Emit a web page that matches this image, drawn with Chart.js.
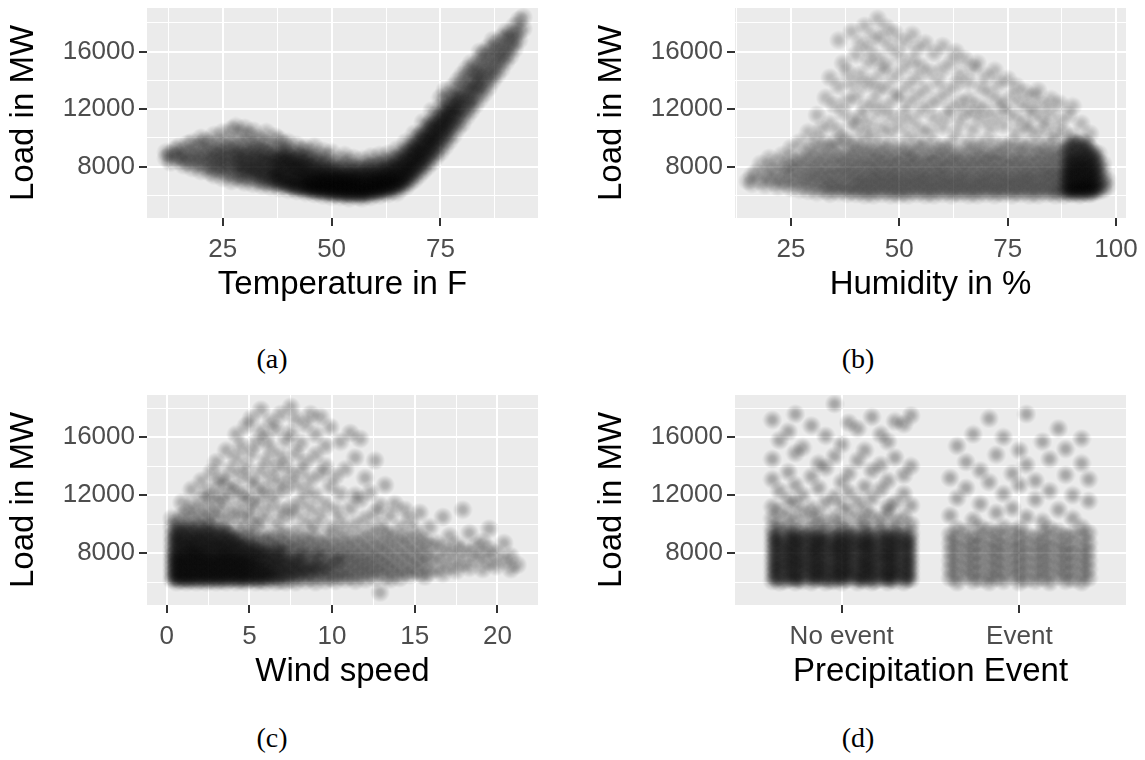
<!DOCTYPE html>
<html>
<head>
<meta charset="utf-8">
<script src="https://cdn.jsdelivr.net/npm/chart.js@4.4.0/dist/chart.umd.min.js"></script>
<style>
  body { margin: 0; background: #fff; width: 1145px; height: 760px; position: relative; overflow: hidden; }
  canvas { position: absolute; }
  .cap { position: absolute; font-family: "Liberation Serif", serif; font-size: 28px; color: #000; transform: translate(-50%, -50%); }
</style>
</head>
<body>
<canvas id="tempChart" width="556" height="330" style="left:0;top:0"></canvas>
<canvas id="humChart" width="556" height="330" style="left:588px;top:0"></canvas>
<canvas id="windChart" width="556" height="330" style="left:0;top:387px"></canvas>
<canvas id="precipChart" width="556" height="330" style="left:588px;top:387px"></canvas>
<div class="cap" style="left:272px;top:359px">(a)</div>
<div class="cap" style="left:858px;top:359px">(b)</div>
<div class="cap" style="left:272px;top:738px">(c)</div>
<div class="cap" style="left:858px;top:738px">(d)</div>
<script>
const tempCols = [
  [12, 8600, 9000], [13, 8300, 8900], [14, 8700, 9200], [15, 8400, 8800, 9400],
  [16, 8100, 8600, 9100], [17, 8300, 8900, 9600], [18, 7900, 8500, 9000, 9700],
  [19, 8200, 8700, 9300], [20, 7700, 8300, 8800, 9500, 10000], [21, 8000, 8600, 9100, 9800],
  [22, 7600, 8100, 8500, 9000, 9600], [23, 7400, 7900, 8400, 8800, 9300, 10200],
  [24, 7800, 8200, 8700, 9100, 9700], [25, 7200, 7700, 8100, 8500, 8900, 9400, 10400],
  [26, 7500, 8000, 8400, 8800, 9300, 9900], [27, 7000, 7600, 8100, 8600, 9000, 9500, 10600],
  [28, 7300, 7800, 8200, 8700, 9200, 9800, 10800], [29, 7100, 7500, 7900, 8300, 8800, 9400, 10300],
  [30, 6900, 7400, 7800, 8200, 8700, 9100, 9700, 10700], [31, 7200, 7700, 8100, 8500, 9000, 9600, 10200],
  [32, 6800, 7300, 7600, 8000, 8400, 8900, 9500, 10500], [33, 7100, 7500, 7900, 8300, 8700, 9300, 10000],
  [34, 6700, 7000, 7400, 7800, 8200, 8600, 9100, 9800], [35, 6900, 7300, 7700, 8100, 8500, 9000, 9600, 10400],
  [36, 6600, 7000, 7400, 7700, 8100, 8500, 8900, 9500], [37, 6800, 7200, 7500, 7900, 8300, 8800, 9300, 10100],
  [38, 6500, 6900, 7300, 7600, 8000, 8400, 8800, 9200, 9900], [39, 6700, 7000, 7400, 7800, 8200, 8600, 9100, 9600],
  [40, 6400, 6800, 7100, 7500, 7900, 8300, 8700, 9200, 9700], [41, 6600, 6900, 7300, 7700, 8100, 8500, 9000],
  [42, 6300, 6600, 7000, 7300, 7700, 8000, 8400, 8900, 9500], [43, 6500, 6800, 7200, 7500, 7900, 8300, 8700, 9200],
  [44, 6200, 6500, 6800, 7100, 7400, 7800, 8200, 8600, 9300], [45, 6300, 6600, 6900, 7200, 7600, 8000, 8500, 9000],
  [46, 6100, 6400, 6700, 7000, 7300, 7700, 8100, 8600, 9400], [47, 6200, 6500, 6800, 7100, 7400, 7800, 8300, 8800],
  [48, 6000, 6300, 6600, 6900, 7200, 7500, 7900, 8400, 9100], [49, 6200, 6500, 6800, 7000, 7300, 7700, 8200, 8700],
  [50, 5900, 6200, 6500, 6800, 7100, 7400, 7800, 8300, 9000], [51, 6100, 6400, 6700, 7000, 7300, 7700, 8200],
  [52, 5900, 6200, 6500, 6800, 7100, 7400, 7900, 8500], [53, 6000, 6300, 6600, 6900, 7200, 7600, 8100, 8800],
  [54, 5800, 6100, 6400, 6700, 7000, 7300, 7700, 8300], [55, 6000, 6300, 6600, 6900, 7200, 7600, 8000, 8600],
  [56, 5900, 6200, 6500, 6800, 7100, 7500, 8000], [57, 5800, 6100, 6400, 6700, 7000, 7400, 7900, 8500],
  [58, 6000, 6300, 6600, 6900, 7300, 7700, 8200], [59, 5900, 6200, 6500, 6800, 7100, 7500, 8000, 8700],
  [60, 6100, 6400, 6700, 7000, 7300, 7700, 8300], [61, 6000, 6300, 6600, 6900, 7200, 7600, 8100, 8800],
  [62, 6200, 6500, 6800, 7100, 7400, 7800, 8400], [63, 6100, 6400, 6700, 7000, 7300, 7700, 8100, 8900],
  [64, 6300, 6600, 6900, 7200, 7500, 7900, 8500], [65, 6200, 6600, 6900, 7200, 7600, 8000, 8500, 9200],
  [66, 6500, 6800, 7100, 7400, 7800, 8200, 8800], [67, 6600, 6900, 7300, 7600, 8000, 8400, 9000, 9700],
  [68, 6900, 7200, 7600, 7900, 8300, 8700, 9300], [69, 7100, 7500, 7900, 8300, 8700, 9100, 9600, 10300],
  [70, 7400, 7800, 8200, 8600, 9000, 9500, 10100], [71, 7700, 8100, 8500, 8900, 9300, 9800, 10400, 11100],
  [72, 8000, 8400, 8800, 9300, 9700, 10200, 10800], [73, 8300, 8800, 9200, 9700, 10100, 10600, 11200, 11900],
  [74, 8700, 9100, 9600, 10000, 10500, 11000, 11600], [75, 9000, 9500, 10000, 10500, 11000, 11500, 12100, 12800],
  [76, 9400, 9900, 10400, 10900, 11400, 12000, 12600, 13300], [77, 9800, 10300, 10800, 11300, 11800, 12400, 13000],
  [78, 10200, 10800, 11300, 11800, 12300, 12900, 13600], [79, 10700, 11200, 11700, 12200, 12700, 13300, 14000],
  [80, 11000, 11600, 12100, 12600, 13100, 13700, 14400], [81, 11500, 12000, 12500, 13000, 13600, 14200, 14800],
  [82, 11900, 12400, 12900, 13400, 14000, 14600, 15200], [83, 12300, 12900, 13400, 13900, 14500, 15100],
  [84, 12700, 13300, 13800, 14300, 14900, 15500, 16000], [85, 13100, 13700, 14200, 14700, 15300, 15900],
  [86, 13500, 14100, 14600, 15100, 15700, 16300], [87, 14000, 14500, 15000, 15600, 16200, 16800],
  [88, 14400, 15000, 15500, 16000, 16600], [89, 14800, 15400, 15900, 16400, 17000],
  [90, 15300, 15800, 16300, 16900, 17400], [91, 15700, 16300, 16800, 17300],
  [92, 16200, 16700, 17200, 17800], [93, 16800, 17400, 18200], [94, 17600, 18400]
];
// extra readings where the temperature cloud is darkest
const tempCore = [
  [28.5, 8200, 8900], [30.5, 7900, 8700], [32.5, 7700, 8500, 9200], [34.5, 7500, 8300, 9000],
  [36.5, 7200, 7900, 8600], [37.5, 6900, 7600, 8400], [38.5, 7100, 7800, 8500],
  [39.5, 6800, 7500, 8200, 8900], [40.5, 6700, 7300, 8000, 8600], [41.5, 6500, 7100, 7800, 8400],
  [42.5, 6600, 7200, 7900, 8700], [43.5, 6400, 7000, 7600, 8200], [44.5, 6500, 6900, 7400, 8000, 8700],
  [45.5, 6400, 6800, 7300, 7900], [46.5, 6300, 6700, 7100, 7600, 8300], [47.5, 6400, 6800, 7200, 7700],
  [48.5, 6200, 6600, 7000, 7500, 8100], [49.5, 6300, 6700, 7100, 7600], [50.5, 6100, 6500, 6900, 7300, 7900],
  [51.5, 6300, 6700, 7100, 7500], [52.5, 6100, 6500, 6900, 7300, 7800], [53.5, 6200, 6600, 7000, 7400],
  [54.5, 6100, 6500, 6900, 7300, 7900], [55.5, 6200, 6600, 7000, 7400], [56.5, 6100, 6500, 6900, 7300, 7800],
  [57.5, 6200, 6600, 7000, 7500], [58.5, 6200, 6600, 7000, 7400, 8000], [59.5, 6300, 6700, 7100, 7600],
  [60.5, 6300, 6700, 7100, 7500, 8100], [61.5, 6400, 6800, 7200, 7700], [62.5, 6500, 6900, 7300, 7800, 8300],
  [63.5, 6600, 7000, 7400, 7900], [64.5, 6700, 7100, 7600, 8100, 8600], [65.5, 6900, 7300, 7800, 8300],
  [66.5, 7100, 7600, 8100, 8600, 9100], [67.5, 7400, 7900, 8400, 8900], [68.5, 7700, 8200, 8700, 9200, 9700],
  [69.5, 8000, 8500, 9000, 9500], [70.5, 8300, 8800, 9300, 9800, 10300], [71.5, 8700, 9200, 9700, 10200],
  [72.5, 9000, 9500, 10000, 10500, 11000], [73.5, 9400, 9900, 10400, 10900], [74.5, 9800, 10300, 10800, 11300],
  [75.5, 10200, 10700, 11200, 11700], [76.5, 10600, 11100, 11600, 12100], [77.5, 11000, 11600, 12200],
  [78.5, 11500, 12100, 12800], [79.5, 12000, 12700], [81.5, 12600, 13400], [83.5, 13600, 14400]
];

const humidityCols = [
  [15, 7000], [16, 6800, 7400], [17, 7600], [18, 7000, 8200], [19, 6700, 7500],
  [20, 7200, 8000, 8600], [21, 6900, 7700], [22, 6600, 7300, 8300], [23, 7000, 7800, 8800],
  [24, 6800, 7500, 8100], [25, 6500, 7200, 7900, 8600, 9300], [26, 6900, 7600, 8300],
  [27, 6400, 7100, 7800, 8500, 9700], [28, 6700, 7300, 8000, 8800], [29, 6300, 7000, 7600, 8300, 9100, 10400],
  [30, 6600, 7200, 7800, 8500, 9400], [31, 6200, 6900, 7500, 8100, 8800, 9900, 11600],
  [32, 6500, 7100, 7700, 8400, 9200, 10600], [33, 6300, 6800, 7400, 8000, 8700, 9600, 12800],
  [34, 6100, 6700, 7200, 7800, 8500, 9300, 11000, 14200], [35, 6400, 6900, 7500, 8100, 8800, 9700, 12300],
  [36, 6200, 6700, 7300, 7900, 8600, 9400, 10500, 13600, 16800], [37, 6400, 6900, 7500, 8100, 8700, 10000, 11800, 15200],
  [38, 6100, 6600, 7200, 7700, 8300, 9000, 9800, 12600, 14600], [39, 6300, 6800, 7400, 8000, 8600, 9300, 11200, 13800, 17400],
  [40, 6100, 6600, 7100, 7600, 8200, 8900, 9700, 10800, 12900, 15800], [41, 6300, 6800, 7300, 7900, 8500, 9200, 11500, 14400, 16600],
  [42, 6000, 6500, 7000, 7500, 8100, 8700, 9500, 10300, 12100, 13700, 17800], [43, 6200, 6700, 7200, 7800, 8400, 9100, 11000, 15300, 16200],
  [44, 6000, 6500, 7000, 7500, 8000, 8600, 9300, 10100, 12500, 14000, 17100], [45, 6300, 6800, 7300, 7800, 8400, 9000, 11800, 13300, 15600, 18300],
  [46, 6100, 6600, 7100, 7600, 8200, 8800, 9600, 10700, 14700, 16900], [47, 6300, 6800, 7300, 7900, 8500, 9200, 12200, 13600, 15100, 17700],
  [48, 6000, 6500, 7000, 7500, 8000, 8600, 9400, 10400, 11500, 16300], [49, 6200, 6700, 7200, 7700, 8300, 8900, 12800, 14300, 17300],
  [50, 6000, 6500, 7000, 7500, 8100, 8700, 9500, 10900, 13100, 15800], [51, 6200, 6700, 7200, 7800, 8400, 9100, 11700, 14900, 16700],
  [52, 6000, 6500, 7000, 7500, 8000, 8600, 9300, 10200, 12400, 13700], [53, 6300, 6800, 7300, 7900, 8500, 9000, 11200, 15400, 17200],
  [54, 6100, 6600, 7100, 7600, 8200, 8800, 9700, 12900, 14200, 16200], [55, 6300, 6800, 7300, 7800, 8400, 9300, 10600, 11900, 15000],
  [56, 6000, 6500, 7000, 7500, 8100, 8700, 9500, 13400, 16600], [57, 6200, 6700, 7200, 7700, 8300, 8900, 10400, 12300, 14600],
  [58, 6000, 6500, 7000, 7600, 8200, 8800, 9600, 11400, 15900], [59, 6300, 6800, 7300, 7800, 8400, 9100, 12700, 13900],
  [60, 6100, 6600, 7100, 7600, 8100, 8700, 9400, 10800, 14800, 16400], [61, 6300, 6800, 7300, 7900, 8500, 9200, 11600, 13200],
  [62, 6000, 6500, 7000, 7500, 8100, 8700, 9600, 12100, 15300], [63, 6200, 6700, 7200, 7800, 8400, 9000, 10300, 13700, 16000],
  [64, 6100, 6600, 7100, 7600, 8200, 8800, 11100, 12500, 14400], [65, 6300, 6800, 7300, 7800, 8400, 9300, 11800, 15500],
  [66, 6000, 6500, 7000, 7600, 8200, 8800, 9700, 12700, 13900], [67, 6200, 6700, 7200, 7800, 8400, 9100, 10600, 11700, 14900],
  [68, 6000, 6500, 7000, 7500, 8100, 8700, 9500, 12300, 15200], [69, 6300, 6800, 7300, 7900, 8500, 9200, 11300, 13500],
  [70, 6100, 6600, 7100, 7600, 8200, 8800, 9800, 12000, 14300], [71, 6300, 6800, 7300, 7800, 8400, 9000, 10700, 13100],
  [72, 6000, 6500, 7000, 7600, 8200, 8800, 9600, 11500, 14700], [73, 6200, 6700, 7200, 7700, 8300, 9000, 12600, 13800],
  [74, 6100, 6600, 7100, 7600, 8200, 8800, 9500, 10900, 12200], [75, 6300, 6800, 7300, 7900, 8500, 9300, 11800, 14100],
  [76, 6000, 6500, 7000, 7500, 8100, 8700, 9700, 12900], [77, 6200, 6700, 7200, 7800, 8400, 9100, 10400, 11400, 13600],
  [78, 6100, 6600, 7100, 7600, 8200, 8800, 9500, 12400], [79, 6300, 6800, 7300, 7800, 8400, 9200, 11000, 13200],
  [80, 6000, 6500, 7000, 7500, 8100, 8700, 9600, 10600, 12100], [81, 6200, 6700, 7200, 7700, 8300, 9000, 11700, 12900],
  [82, 6000, 6500, 7000, 7600, 8200, 8800, 9500, 10300, 13300], [83, 6300, 6800, 7300, 7800, 8400, 9100, 11300, 12300],
  [84, 6100, 6600, 7100, 7600, 8100, 8700, 9400, 10800], [85, 6200, 6700, 7200, 7700, 8300, 8900, 9800, 11800, 12700],
  [86, 6000, 6400, 6900, 7400, 7900, 8500, 9100, 10200], [87, 6200, 6600, 7000, 7500, 8000, 8600, 9300, 11100, 12400],
  [88, 6000, 6400, 6800, 7200, 7600, 8100, 8600, 9200, 10400], [88.5, 6300, 6700, 7100, 7500, 7900, 8400, 8900, 9500],
  [89, 6200, 6500, 6900, 7300, 7700, 8200, 8700, 9400, 11600], [89.5, 6100, 6500, 6900, 7300, 7700, 8100, 8600, 9100, 9700],
  [90, 6100, 6400, 6700, 7100, 7500, 7900, 8300, 8800, 9400, 10100, 12200], [90.5, 6300, 6600, 7000, 7400, 7800, 8200, 8600, 9100, 9700],
  [91, 6200, 6500, 6800, 7200, 7600, 8000, 8400, 8900, 9600], [91.5, 6000, 6400, 6800, 7200, 7600, 8000, 8500, 9000, 9500],
  [92, 6100, 6400, 6700, 7000, 7400, 7800, 8200, 8600, 9100, 9800, 11000], [92.5, 6300, 6600, 7000, 7400, 7800, 8200, 8700, 9300],
  [93, 6200, 6500, 6800, 7100, 7500, 7900, 8300, 8700, 9200, 9700], [93.5, 6100, 6500, 6900, 7300, 7700, 8100, 8500, 9000, 9500],
  [94, 6100, 6400, 6700, 7000, 7400, 7800, 8200, 8700, 9300, 10300], [94.5, 6300, 6700, 7100, 7500, 7900, 8400, 8900],
  [95, 6200, 6500, 6800, 7200, 7600, 8000, 8500, 9000], [95.5, 6400, 6800, 7200, 7600, 8100, 8600],
  [96, 6300, 6600, 7000, 7400, 7800, 8300, 8900], [97, 6400, 6800, 7200, 7700, 8200], [98, 6600, 7100]
];

const windCols = [
  [0.3, 6200, 6600, 7000, 7400, 7800, 8200, 8700, 9200, 9800, 10400],
  [0.6, 6000, 6400, 6800, 7200, 7600, 8000, 8500, 9000, 9500, 10100],
  [0.9, 6100, 6500, 6900, 7300, 7700, 8100, 8600, 9100, 9700, 10600, 11500],
  [1.2, 6000, 6300, 6700, 7100, 7500, 7900, 8300, 8800, 9300, 9900, 10800],
  [1.5, 6100, 6500, 6900, 7300, 7700, 8100, 8500, 9000, 9600, 10300, 11300, 12400],
  [1.8, 6000, 6400, 6800, 7200, 7600, 8000, 8400, 8900, 9400, 10000, 10900],
  [2.1, 6100, 6500, 6900, 7300, 7700, 8100, 8600, 9100, 9700, 10500, 11700, 13000],
  [2.4, 6000, 6400, 6800, 7200, 7600, 8000, 8400, 8900, 9500, 10200, 11100, 12200],
  [2.7, 6100, 6500, 6900, 7300, 7700, 8200, 8700, 9200, 9800, 10700, 11900, 13600],
  [3.0, 6000, 6400, 6800, 7200, 7600, 8000, 8500, 9000, 9600, 10400, 11400, 12700, 14300],
  [3.3, 6100, 6500, 6900, 7300, 7700, 8100, 8600, 9100, 9700, 10900, 12000, 13200],
  [3.6, 6000, 6400, 6800, 7200, 7600, 8000, 8400, 8900, 9400, 10100, 11600, 12900, 15100],
  [3.9, 6200, 6600, 7000, 7400, 7800, 8300, 8800, 9300, 10600, 12300, 13800],
  [4.2, 6000, 6400, 6800, 7200, 7600, 8000, 8500, 9000, 9600, 11000, 12500, 14600, 16200],
  [4.5, 6100, 6500, 6900, 7300, 7700, 8200, 8700, 9200, 10300, 11800, 13400, 15400],
  [4.8, 6000, 6400, 6800, 7200, 7600, 8000, 8500, 9000, 9700, 10900, 12100, 14000, 16800],
  [5.1, 6200, 6600, 7000, 7400, 7800, 8300, 8800, 9400, 10500, 11600, 13100, 14900, 17300],
  [5.4, 6000, 6400, 6800, 7200, 7600, 8100, 8600, 9100, 9900, 11300, 12700, 15600],
  [5.7, 6100, 6500, 6900, 7300, 7800, 8300, 8900, 10200, 12000, 13700, 16400, 17900],
  [6.0, 6000, 6400, 6800, 7200, 7700, 8200, 8700, 9300, 10800, 12400, 14400, 15900],
  [6.3, 6200, 6600, 7000, 7500, 8000, 8500, 9100, 11500, 13200, 15200, 17100],
  [6.6, 6000, 6400, 6900, 7400, 7900, 8400, 9000, 10100, 12100, 13900, 16600],
  [6.9, 6100, 6600, 7100, 7600, 8100, 8700, 9500, 11000, 12900, 14700, 17600],
  [7.2, 6000, 6500, 7000, 7500, 8000, 8600, 9300, 10500, 12400, 14100, 15800],
  [7.5, 6200, 6700, 7200, 7700, 8300, 8900, 11200, 13400, 16300, 18100],
  [7.8, 6000, 6500, 7000, 7500, 8100, 8700, 9600, 10800, 12800, 14900, 17300],
  [8.1, 6300, 6800, 7300, 7800, 8400, 9100, 11600, 13700, 15600],
  [8.4, 6100, 6600, 7100, 7600, 8200, 8900, 10200, 12300, 14300, 16900],
  [8.7, 6300, 6800, 7300, 7900, 8600, 9400, 11100, 13100, 17600],
  [9.0, 6000, 6500, 7000, 7600, 8200, 8900, 9900, 12000, 14800, 16200],
  [9.3, 6400, 6900, 7400, 8000, 8700, 10600, 13500, 17400],
  [9.6, 6100, 6600, 7100, 7700, 8300, 9100, 11400, 14000, 15400],
  [9.9, 6300, 6800, 7400, 8000, 8700, 9800, 12600, 16700],
  [10.2, 6100, 6600, 7200, 7800, 8500, 9400, 11000, 13300],
  [10.5, 6400, 6900, 7500, 8100, 8900, 10300, 12100, 15700],
  [10.8, 6200, 6700, 7300, 7900, 8600, 9600, 13800],
  [11.1, 6400, 7000, 7600, 8200, 9000, 11100, 16300],
  [11.4, 6100, 6700, 7300, 7900, 8700, 10000, 12000, 14600],
  [11.7, 6500, 7100, 7700, 8400, 9300, 11700, 15900],
  [12.0, 6200, 6800, 7400, 8100, 8900, 10400, 13200],
  [12.3, 6600, 7200, 7800, 8600, 9600, 12200],
  [12.6, 6300, 6900, 7600, 8300, 9200, 10800, 14400],
  [12.9, 5300, 6700, 7300, 8000, 8800, 9900, 11300],
  [13.2, 6400, 7100, 7800, 8600, 9500, 12700],
  [13.5, 6200, 6900, 7600, 8400, 9300, 10600],
  [13.8, 6600, 7300, 8100, 9000, 11400],
  [14.1, 6300, 7000, 7800, 8700, 9800],
  [14.4, 6700, 7500, 8300, 9200, 11000],
  [14.7, 6500, 7200, 8000, 8900, 10300],
  [15.0, 6800, 7600, 8500, 9600],
  [15.3, 6600, 7400, 8200, 9100, 10800],
  [15.6, 6400, 7200, 8000, 8900],
  [15.9, 6700, 7600, 8500, 9800],
  [16.3, 6900, 7800, 8700], [16.7, 6600, 7500, 8400, 10500], [17.1, 7100, 8100, 9200],
  [17.5, 6800, 7700, 8600], [17.9, 7300, 8300, 11000], [18.3, 7000, 8000, 9400],
  [18.7, 7600, 8500], [19.1, 6900, 7900, 8800], [19.5, 7400, 8300, 9700],
  [19.9, 7100, 8000], [20.4, 7500, 8700], [20.8, 6900, 7800], [21.2, 7200]
];
// extra readings in the near-black block at low wind speed
const windCore = [
  [0.45, 6300, 6700, 7100, 7500, 7900, 8400, 8900, 9400], [0.75, 6200, 6600, 7000, 7400, 7800, 8300, 8800, 9300, 9900],
  [1.05, 6300, 6700, 7100, 7500, 7900, 8400, 8900, 9500], [1.35, 6200, 6600, 7000, 7400, 7800, 8300, 8700, 9200, 9800],
  [1.65, 6300, 6700, 7100, 7500, 7900, 8300, 8800, 9300], [1.95, 6200, 6600, 7000, 7400, 7800, 8200, 8700, 9200, 9800],
  [2.25, 6300, 6700, 7100, 7500, 7900, 8400, 8900, 9400], [2.55, 6200, 6600, 7000, 7400, 7800, 8300, 8800, 9300, 9900],
  [2.85, 6300, 6700, 7100, 7500, 7900, 8400, 8900, 9500], [3.15, 6200, 6600, 7000, 7400, 7800, 8300, 8700, 9200],
  [3.45, 6300, 6700, 7100, 7500, 7900, 8400, 8900, 9600], [3.75, 6200, 6600, 7000, 7400, 7800, 8200, 8700, 9300],
  [4.05, 6300, 6700, 7100, 7500, 7900, 8400, 8900], [4.35, 6200, 6600, 7000, 7400, 7800, 8300, 8800],
  [4.65, 6300, 6700, 7100, 7500, 7900, 8400], [4.95, 6200, 6600, 7000, 7400, 7900, 8500],
  [5.25, 6300, 6800, 7300, 7800, 8300], [5.55, 6200, 6700, 7200, 7700, 8200],
  [5.85, 6400, 6900, 7500, 8100], [6.15, 6300, 6800, 7400, 8000],
  [6.45, 6500, 7100, 7700], [6.75, 6400, 7000, 7600, 8300],
  [7.05, 6600, 7300, 8000], [7.35, 6500, 7200],
  [7.65, 6800, 7600], [7.95, 6600, 7400], [8.25, 7000, 7900], [8.55, 6700],
  [8.85, 7200], [9.15, 6900, 7800], [9.75, 7100], [10.35, 7500]
];

const noEventCols = [
  [0.61, 6100, 6500, 6900, 7300, 7700, 8100, 8500, 8900, 9300, 9700, 10400, 11200, 13100, 14500, 17200],
  [0.65, 6000, 6400, 6800, 7200, 7600, 8000, 8400, 8800, 9200, 9600, 10000, 10900, 12300, 15800],
  [0.70, 6200, 6600, 7000, 7400, 7800, 8200, 8600, 9000, 9400, 9800, 10600, 11700, 13600, 16400],
  [0.74, 6000, 6300, 6700, 7100, 7500, 7900, 8300, 8700, 9100, 9500, 10200, 11400, 12700, 14900, 17600],
  [0.78, 6100, 6500, 6900, 7300, 7700, 8100, 8500, 8900, 9300, 9700, 10800, 12000, 15300],
  [0.83, 6000, 6400, 6800, 7200, 7600, 8000, 8400, 8800, 9200, 9600, 10300, 11100, 13300, 16800],
  [0.87, 6200, 6600, 7000, 7400, 7800, 8200, 8600, 9000, 9400, 9900, 10700, 12500, 14200],
  [0.91, 6000, 6300, 6700, 7100, 7500, 7900, 8300, 8700, 9100, 9500, 10100, 11500, 13900, 16100],
  [0.96, 6100, 6500, 6900, 7300, 7700, 8100, 8500, 8900, 9300, 9700, 10500, 11900, 14700, 18300],
  [1.00, 6000, 6400, 6800, 7200, 7600, 8000, 8400, 8800, 9200, 9600, 10200, 11300, 12900, 15500],
  [1.04, 6200, 6600, 7000, 7400, 7800, 8200, 8600, 9000, 9400, 9800, 10900, 12200, 13500, 17000],
  [1.09, 6000, 6300, 6700, 7100, 7500, 7900, 8300, 8700, 9100, 9500, 10400, 11600, 14400, 16600],
  [1.13, 6100, 6500, 6900, 7300, 7700, 8100, 8500, 8900, 9300, 9700, 10100, 11000, 12600, 15100],
  [1.17, 6000, 6400, 6800, 7200, 7600, 8000, 8400, 8800, 9200, 9600, 10600, 11800, 13700, 17400],
  [1.22, 6200, 6600, 7000, 7400, 7800, 8200, 8600, 9000, 9400, 9800, 10300, 12400, 14100, 16200],
  [1.26, 6000, 6300, 6700, 7100, 7500, 7900, 8300, 8700, 9100, 9500, 10800, 11200, 13000, 15700],
  [1.30, 6100, 6500, 6900, 7300, 7700, 8100, 8500, 8900, 9300, 9700, 10200, 11500, 14600, 17100],
  [1.35, 6000, 6400, 6800, 7200, 7600, 8000, 8400, 8800, 9200, 9600, 10500, 12100, 13400, 16900],
  [1.39, 6200, 6600, 7000, 7400, 7800, 8200, 8600, 9000, 9400, 10000, 11300, 14000, 17500]
];
// extra readings in the dense "No event" band
const noEventCore = [
  [0.63, 6300, 6800, 7200, 7700, 8200, 8700, 9100], [0.68, 6100, 6600, 7100, 7500, 8000, 8400, 8900],
  [0.72, 6300, 6800, 7300, 7800, 8300, 8800, 9300], [0.76, 6200, 6700, 7200, 7600, 8100, 8600, 9000],
  [0.81, 6400, 6900, 7300, 7800, 8200, 8700, 9200], [0.85, 6200, 6600, 7100, 7600, 8100, 8500, 9000],
  [0.89, 6300, 6800, 7200, 7700, 8200, 8700, 9100], [0.94, 6100, 6600, 7000, 7500, 8000, 8400, 8900],
  [0.98, 6300, 6700, 7200, 7700, 8200, 8600, 9100], [1.02, 6200, 6700, 7100, 7600, 8000, 8500, 9000],
  [1.06, 6400, 6800, 7300, 7800, 8300, 8700, 9200], [1.11, 6200, 6600, 7100, 7500, 8000, 8500, 8900],
  [1.15, 6300, 6800, 7200, 7700, 8200, 8600, 9100], [1.19, 6100, 6600, 7000, 7500, 7900, 8400, 8900],
  [1.24, 6300, 6700, 7200, 7700, 8100, 8600, 9100], [1.28, 6200, 6700, 7100, 7600, 8000, 8500, 9000],
  [1.32, 6400, 6800, 7300, 7800, 8300, 8700, 9200], [1.37, 6200, 6600, 7100, 7500, 8000, 8500, 8900]
];

const eventCols = [
  [1.61, 6300, 6900, 7500, 8100, 8700, 9300, 10600, 13200],
  [1.65, 6000, 6600, 7200, 7800, 8400, 9000, 9700, 11800, 15400],
  [1.70, 6400, 7000, 7600, 8200, 8800, 9500, 12500, 14300],
  [1.74, 6100, 6700, 7300, 7900, 8500, 9100, 10300, 16200],
  [1.78, 6200, 6800, 7400, 8000, 8600, 9200, 9800, 11400, 13700],
  [1.83, 6000, 6500, 7100, 7700, 8300, 8900, 9600, 12900, 17300],
  [1.87, 6300, 6900, 7500, 8100, 8700, 9400, 10800, 14800],
  [1.91, 6100, 6700, 7300, 7900, 8500, 9100, 9800, 12100, 16000],
  [1.96, 6400, 7000, 7600, 8200, 8800, 9500, 11100, 13500],
  [2.00, 6000, 6600, 7200, 7800, 8400, 9000, 9700, 12700, 15100],
  [2.04, 6200, 6800, 7400, 8000, 8600, 9300, 10500, 14100, 17600],
  [2.09, 6100, 6700, 7300, 7900, 8500, 9100, 11700, 13000],
  [2.13, 6300, 6900, 7500, 8100, 8700, 9400, 10200, 15700],
  [2.17, 6000, 6600, 7200, 7800, 8400, 9000, 9700, 12300, 14500],
  [2.22, 6400, 7000, 7600, 8200, 8800, 9500, 11000, 16600],
  [2.26, 6100, 6700, 7300, 7900, 8500, 9200, 13400, 15200],
  [2.30, 6200, 6800, 7400, 8000, 8600, 9300, 10400, 12000],
  [2.35, 6000, 6600, 7200, 7800, 8400, 9100, 9800, 14200, 15900],
  [2.39, 6300, 6900, 7500, 8100, 8700, 9400, 11600, 13100]
];

const loadTicks = [8000, 12000, 16000];
const loadMinor = [6000, 10000, 14000, 18000];
const tempTicks = [25, 50, 75];
const tempMinor = [12.5, 37.5, 62.5, 87.5];
const humidityTicks = [25, 50, 75, 100];
const humidityMinor = [12.5, 37.5, 62.5, 87.5];
const windTicks = [0, 5, 10, 15, 20];
const windMinor = [2.5, 7.5, 12.5, 17.5];
const precipTicks = [1, 2];
const precipLabels = ['No event', 'Event'];

function toPoints(cols) {
  return cols.flatMap(c => c.slice(1).map(y => ({ x: c[0], y: y })));
}

// soft translucent dot, like ggplot's alpha points
function softDot(alpha) {
  const c = document.createElement('canvas');
  c.width = c.height = 20;
  const g = c.getContext('2d');
  const grad = g.createRadialGradient(10, 10, 0, 10, 10, 10);
  grad.addColorStop(0, 'rgba(0,0,0,' + alpha + ')');
  grad.addColorStop(0.3, 'rgba(0,0,0,' + (alpha * 0.9) + ')');
  grad.addColorStop(0.65, 'rgba(0,0,0,' + (alpha * 0.45) + ')');
  grad.addColorStop(1, 'rgba(0,0,0,0)');
  g.fillStyle = grad;
  g.fillRect(0, 0, 20, 20);
  return c;
}

// grey ggplot panel behind the grid
const panelBg = {
  id: 'panelBg',
  beforeDraw(chart) {
    const a = chart.chartArea, ctx = chart.ctx;
    ctx.save();
    ctx.fillStyle = '#ebebeb';
    ctx.fillRect(a.left, a.top, a.right - a.left, a.bottom - a.top);
    ctx.restore();
  }
};

function axis(dir, min, max, major, minor, title, labelFn) {
  return {
    type: 'linear', min: min, max: max,
    afterBuildTicks: s => {
      s.ticks = major.map(v => ({ value: v, big: true })).concat(minor.map(v => ({ value: v })));
    },
    afterFit: s => {
      if (dir === 'x') { s.height = 112; s.paddingLeft = 0; s.paddingRight = 0; }
      else { s.width = 147; s.paddingTop = 0; s.paddingBottom = 0; }
    },
    grid: {
      color: '#ffffff',
      lineWidth: c => (c.tick && c.tick.big ? 2 : 1),
      drawTicks: true, tickLength: 8, tickWidth: 2,
      tickColor: c => (c.tick && c.tick.big ? '#333333' : 'rgba(0,0,0,0)')
    },
    border: { display: false },
    ticks: {
      autoSkip: false, maxRotation: 0, minRotation: 0,
      padding: dir === 'x' ? 8 : 4,
      color: '#4d4d4d',
      font: { family: 'Liberation Sans', size: 26 },
      callback: v => {
        const i = major.indexOf(v);
        if (i < 0) return '';
        return labelFn ? labelFn(i) : String(v);
      }
    },
    title: {
      display: true, text: title, color: '#000',
      font: { family: 'Liberation Sans', size: 33 },
      padding: dir === 'x' ? { top: 0, bottom: 25 } : { top: 4, bottom: 0 }
    }
  };
}

function makeChart(id, points, alpha, xAxis, yMin, yMax) {
  return new Chart(document.getElementById(id), {
    type: 'scatter',
    data: {
      datasets: [{
        data: points,
        pointStyle: softDot(alpha),
        pointRadius: 5,
        pointHoverRadius: 5,
        pointBorderWidth: 0
      }]
    },
    options: {
      responsive: false, animation: false, events: [],
      layout: { padding: { left: 0, top: 8, right: 18, bottom: 0 } },
      plugins: { legend: { display: false }, tooltip: { enabled: false } },
      scales: {
        x: xAxis,
        y: axis('y', yMin, yMax, loadTicks, loadMinor, 'Load in MW')
      }
    },
    plugins: [panelBg]
  });
}

makeChart('tempChart', toPoints(tempCols.concat(tempCore)), 0.24,
  axis('x', 7.6, 97.4, tempTicks, tempMinor, 'Temperature in F'), 4430, 19040);
makeChart('humChart', toPoints(humidityCols), 0.22,
  axis('x', 12.1, 102.3, humidityTicks, humidityMinor, 'Humidity in %'), 4430, 19040);
makeChart('windChart', toPoints(windCols.concat(windCore)), 0.27,
  axis('x', -1.19, 22.45, windTicks, windMinor, 'Wind speed'), 4434, 18917);
makeChart('precipChart', toPoints(noEventCols.concat(noEventCore, eventCols)), 0.3,
  axis('x', 0.4, 2.6, precipTicks, [], 'Precipitation Event', i => precipLabels[i]), 4434, 18917);
</script>
</body>
</html>
